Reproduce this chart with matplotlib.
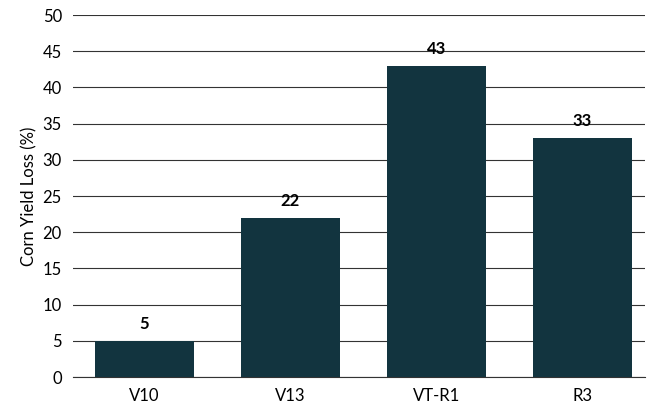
import matplotlib.pyplot as plt

plt.rcParams["font.family"] = ["Lato", "DejaVu Sans"]

stages = ["V10", "V13", "VT-R1", "R3"]
yield_loss = [5, 22, 43, 33]

fig = plt.figure(figsize=(6.57, 4.11), dpi=100)
ax = fig.add_axes([73 / 657, 34 / 411, 572 / 657, 362 / 411])

x = range(len(stages))
bars = ax.bar(x, yield_loss, width=0.68, color="#12343f", zorder=3)
for b, v in zip(bars, yield_loss):
    ax.text(b.get_x() + b.get_width() / 2, v + 1.2, str(v), ha="center", va="bottom",
            fontsize=12, fontweight="bold", color="black")

ax.set_xlim(-0.49, 3.43)
ax.set_ylim(0, 50)
ax.set_yticks(range(0, 51, 5))
ax.set_xticks(list(x))
ax.set_xticklabels(stages)
ax.tick_params(axis="both", length=0, labelsize=12, pad=8)
ax.grid(axis="y", color="#333333", linewidth=0.8, zorder=0)
for s in ["top", "right", "left"]:
    ax.spines[s].set_visible(False)
ax.spines["bottom"].set_color("#333333")
ax.set_ylabel("Corn Yield Loss (%)", fontsize=12)

fig.savefig("out.png", dpi=100)
